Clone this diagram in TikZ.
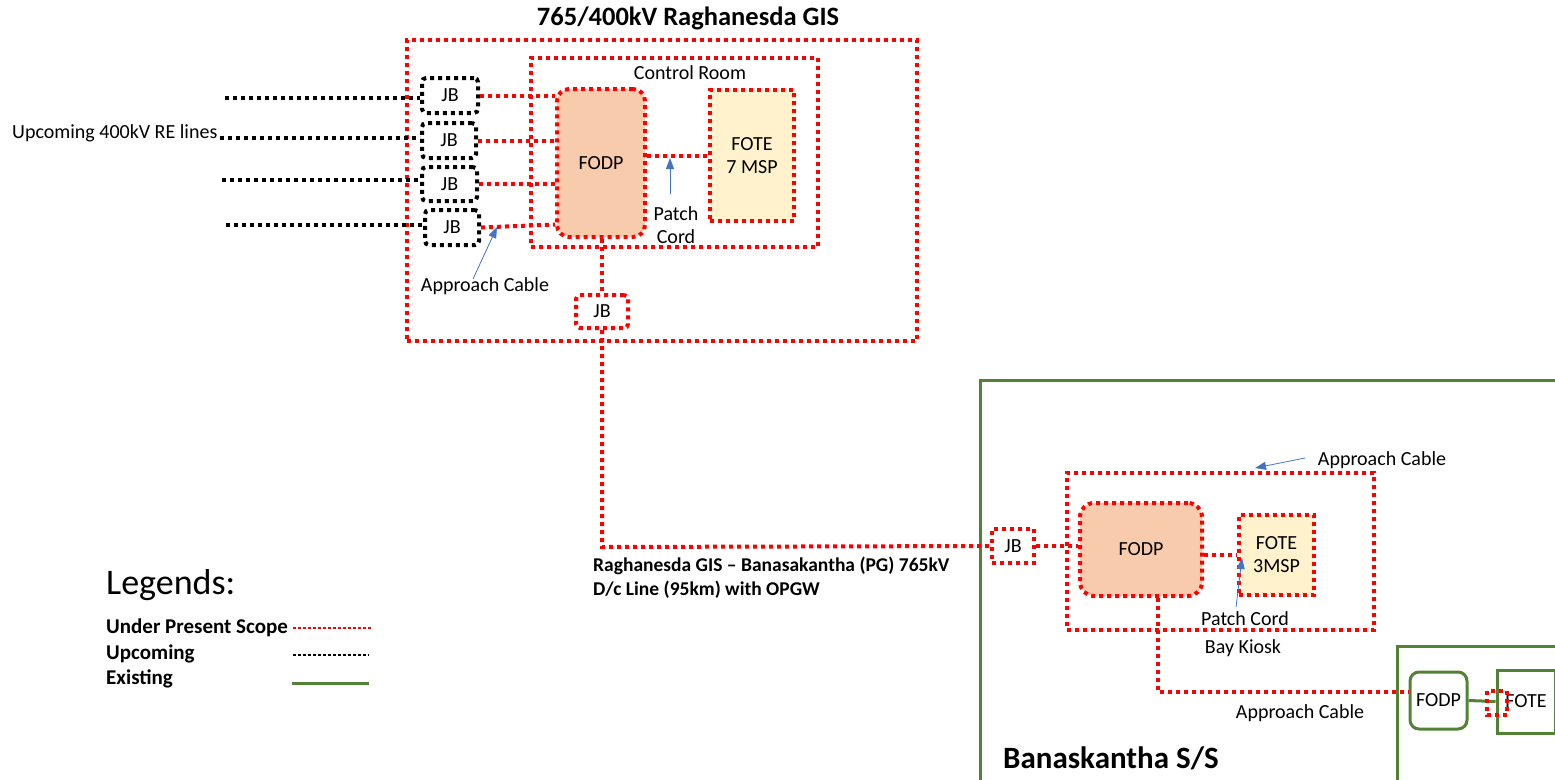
\documentclass[tikz,border=0pt]{standalone}
\usepackage{fontspec}
\setmainfont{Carlito}
\usetikzlibrary{arrows.meta,calc}
\definecolor{grn}{HTML}{548235}
\definecolor{fodpc}{HTML}{F8CBAD}
\definecolor{fotec}{HTML}{FFF2CC}
\definecolor{arrc}{HTML}{4472C4}
\begin{document}
\begin{tikzpicture}[x=1pt,y=-1pt,
  fs/.style={font=\fontsize{20}{23}\selectfont},
  txt/.style={fs, inner sep=0pt, align=center},
  rdot/.style={draw=red, line width=4pt, dash pattern=on 4pt off 4pt},
  bdot/.style={draw=black, line width=4pt, dash pattern=on 4pt off 4pt},
  gline/.style={draw=grn, line width=3pt},
  barrow/.style={draw=arrc, line width=0.8pt, -{Triangle[length=11pt,width=8pt]}},
  legtxt/.style={font=\bfseries\fontsize{21}{24}\selectfont, inner sep=0pt, anchor=west}
]
\useasboundingbox (0,0) rectangle (1555,779);

% ---------- Raghanesda GIS ----------
\node[font=\bfseries\fontsize{26.5}{30}\selectfont, inner sep=0pt] (title) at (688,18) {765/400kV Raghanesda GIS};
\node[rdot, minimum width=510pt, minimum height=301pt, inner sep=0pt] (gis) at (662,190.5) {};
\node[rdot, minimum width=287pt, minimum height=189pt, inner sep=0pt] (cr) at (674.5,152.5) {};
\node[txt] (crl) at (690,73) {Control Room};
\node[rdot, fill=fodpc, rounded corners=12pt, minimum width=88pt, minimum height=148pt, inner sep=0pt, fs] (fodp) at (601,163) {FODP};
\node[rdot, fill=fotec, minimum width=84pt, minimum height=131pt, inner sep=0pt, fs, align=center] (fote) at (752,155.5) {FOTE\\7 MSP};

\node[bdot, rounded corners=4pt, minimum width=56pt, minimum height=35pt, inner sep=0pt, fs] (jb1) at (450,95.5) {JB};
\node[bdot, rounded corners=4pt, minimum width=54pt, minimum height=35pt, inner sep=0pt, fs] (jb2) at (449,140.5) {JB};
\node[bdot, rounded corners=4pt, minimum width=55pt, minimum height=34pt, inner sep=0pt, fs] (jb3) at (449.5,184) {JB};
\node[bdot, rounded corners=4pt, minimum width=54pt, minimum height=35pt, inner sep=0pt, fs] (jb4) at (452,227.5) {JB};

\node[txt, anchor=west] (upl) at (12,133) {Upcoming 400kV RE lines};
\coordinate (u1) at (225,98);
\coordinate (u2) at (220,138);
\coordinate (u3) at (222,180);
\coordinate (u4) at (226,225);
\draw[bdot] (u1) -- (u1 -| jb1.west);
\draw[bdot] (u2) -- (u2 -| jb2.west);
\draw[bdot] (u3) -- (u3 -| jb3.west);
\draw[bdot] (u4) -- (u4 -| jb4.west);

\draw[rdot] (jb1.east) -- (jb1.east -| fodp.west);
\draw[rdot] (jb2.east) -- (jb2.east -| fodp.west);
\draw[rdot] (jb3.east) -- (jb3.east -| fodp.west);
\draw[rdot] (jb4.east) -- ($(fodp.west |- jb4.east)+(0,-3)$);
\draw[rdot] (fodp.east |- fote.west) -- (fote.west);

\coordinate (pca) at (670,194);
\draw[barrow] (pca) -- (670,158);
\node[txt] (pcl) at (676,225) {Patch\\Cord};

\coordinate (aca) at (473,279);
\draw[barrow] (aca) -- (497,227);
\node[txt] (acl) at (485,286) {Approach Cable};

\node[rdot, rounded corners=4pt, minimum width=52pt, minimum height=33pt, inner sep=0pt, fs] (jb5) at (602,311.5) {JB};
\draw[rdot] (fodp.south -| jb5.north) -- (jb5.north);

% ---------- Banaskantha ----------
\draw[gline] (980,800) -- (980,380) -- (1570,380);
\node[rdot, minimum width=42pt, minimum height=34pt, inner sep=0pt, fs] (jbb) at (1013,546) {JB};
\draw[rdot] (jb5.south) -- (602,547) -- (jbb.west);

\node[font=\bfseries\fontsize{19.5}{22}\selectfont, inner sep=0pt, anchor=west] (ln1) at (593,566) {Raghanesda GIS – Banasakantha (PG) 765kV};
\node[font=\bfseries\fontsize{19.5}{22}\selectfont, inner sep=0pt, anchor=west] (ln2) at (593,590) {D/c Line (95km) with OPGW};

\node[rdot, minimum width=307pt, minimum height=157pt, inner sep=0pt] (bk) at (1220.5,551.5) {};
\node[rdot, fill=fodpc, rounded corners=14pt, minimum width=122pt, minimum height=93pt, inner sep=0pt, fs] (fodpb) at (1141,549.5) {FODP};
\node[rdot, fill=fotec, minimum width=75pt, minimum height=80pt, inner sep=0pt, fs, align=center] (foteb) at (1276.5,555) {FOTE\\3MSP};
\draw[rdot] (jbb.east) -- (jbb.east -| fodpb.west);
\draw[rdot] (fodpb.east |- foteb.west) -- (foteb.west);

\coordinate (pcb) at (1236,607);
\draw[barrow] (pcb) -- (1242,558);
\node[txt] (pclb) at (1245,619) {Patch Cord};
\node[txt] (bkl) at (1243,648) {Bay Kiosk};

\coordinate (acb) at (1305,458);
\draw[barrow] (acb) -- (1255,468);
\node[txt] (aclb) at (1382,460) {Approach Cable};

\draw[gline] (1397,800) -- (1397,646) -- (1570,646);
\node[gline, rounded corners=9pt, minimum width=57pt, minimum height=57pt, inner sep=0pt, fs] (sfodp) at (1438.5,700.5) {FODP};
\node[gline, minimum width=58pt, minimum height=63pt, inner sep=0pt, fs] (sfote) at (1526,701.5) {FOTE};
\draw[gline] (sfodp.east) -- (sfote.west);
\draw[rdot] (1487,691) rectangle (1507,715);
\draw[rdot] (fodpb.south -| 1158,0) -- (1158,692) -- (sfodp.west |- 0,692);
\node[txt] (aclc) at (1300,713) {Approach Cable};

\node[font=\bfseries\fontsize{31}{35}\selectfont, inner sep=0pt, anchor=west] (bss) at (1003,758) {Banaskantha S/S};

% ---------- Legends ----------
\node[font=\fontsize{36}{40}\selectfont, inner sep=0pt, anchor=west] (leg) at (106,585) {Legends:};
\node[legtxt] (l1) at (106,628) {Under Present Scope};
\node[legtxt] (l2) at (106,654) {Upcoming};
\node[legtxt] (l3) at (106,679) {Existing};
\coordinate (l1a) at (293,628);
\coordinate (l1b) at (371,628);
\coordinate (l2a) at (293,655);
\coordinate (l2b) at (369,655);
\coordinate (l3a) at (292,683);
\coordinate (l3b) at (369,683);
\draw[red, line width=1.5pt, dash pattern=on 3pt off 2pt] (l1a) -- (l1b);
\draw[black, line width=1.5pt, dash pattern=on 3pt off 2pt] (l2a) -- (l2b);
\draw[gline] (l3a) -- (l3b);
\end{tikzpicture}
\end{document}
